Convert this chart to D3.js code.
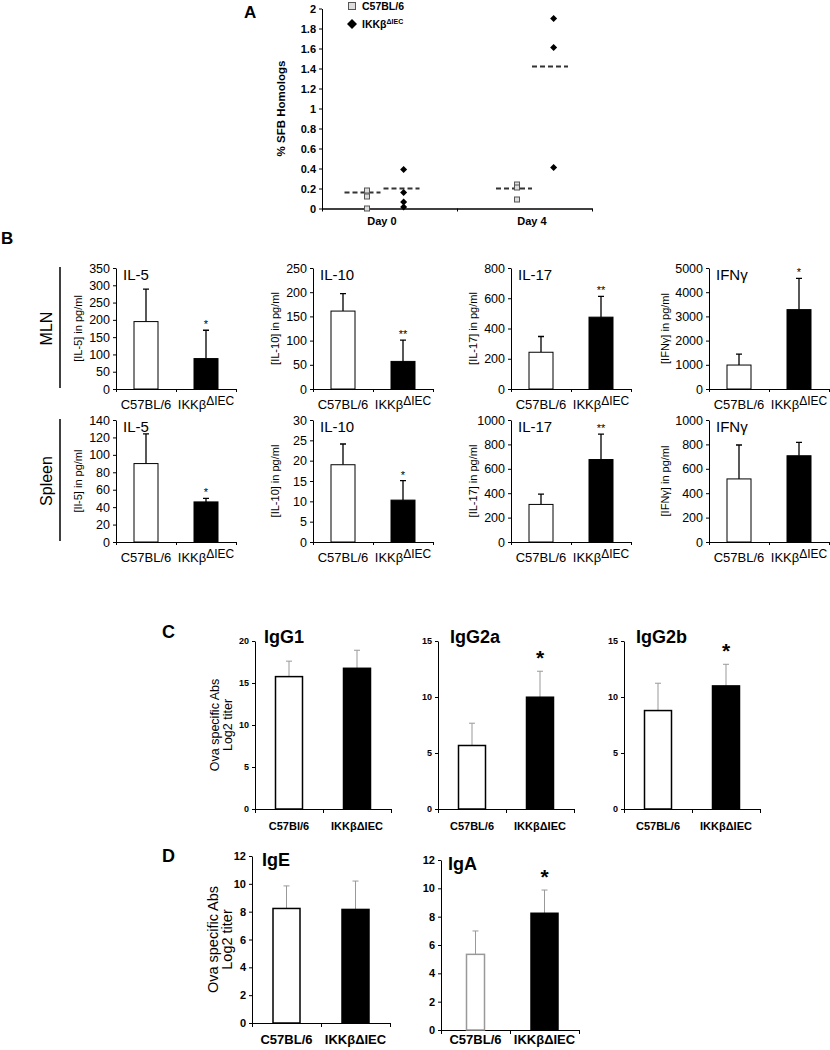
<!DOCTYPE html>
<html>
<head>
<meta charset="utf-8">
<script src="https://cdn.jsdelivr.net/npm/d3@7"></script>
<style>
  body { margin: 0; background: #fff; }
  svg { display: block; font-family: "Liberation Sans", Arial, sans-serif; }
</style>
</head>
<body>
<div id="fig"></div>
<script>
!(function(){
    "use strict"

    // ---- panel A data (% SFB homologs) ----
    var aDays = ["Day 0", "Day 4"]
    var aDayPos = [2, 7]
    var aC57 = [[0.18, 0.12, 0.0], [0.24, 0.21, 0.09]]
    var aIKK = [[0.39, 0.16, 0.065, 0.015], [1.9, 1.61, 0.41]]
    var aC57Mean = [0.16, 0.2]
    var aIKKMean = [0.2, 1.42]
    var aTicks = [0, 0.2, 0.4, 0.6, 0.8, 1, 1.2, 1.4, 1.6, 1.8, 2]

    // ---- panel B data (cytokines, pg/ml) ----
    var bCytokines = ["IL-5", "IL-10", "IL-17", "IFNγ"]
    var bYTitlesMln = ["[IL-5] in pg/ml", "[IL-10] in pg/ml", "[IL-17] in pg/ml", "[IFNγ] in pg/ml"]
    var bYTitlesSpl = ["[Il-5] in pg/ml", "[IL-10] in pg/ml", "[IL-17] in pg/ml", "[IFNγ] in pg/ml"]
    var bMlnMax = [350, 250, 800, 5000]
    var bMlnStep = [50, 50, 200, 1000]
    var bMlnWT = [195, 161, 243, 990]
    var bMlnWTErr = [94, 36, 104, 450]
    var bMlnKO = [88, 57, 475, 3280]
    var bMlnKOErr = [82, 44, 137, 1290]
    var bMlnStars = ["*", "**", "**", "*"]
    var bSplMax = [140, 30, 1000, 1000]
    var bSplStep = [20, 5, 200, 200]
    var bSplWT = [90, 19.0, 308, 517]
    var bSplWTErr = [34, 5.1, 84, 278]
    var bSplKO = [46, 10.3, 676, 707]
    var bSplKOErr = [4, 4.8, 208, 109]
    var bSplStars = ["*", "*", "**", ""]

    // ---- panel C data (log2 titer) ----
    var cIg = ["IgG1", "IgG2a", "IgG2b"]
    var cMax = [20, 15, 15]
    var cWT = [15.76, 5.67, 8.79]
    var cWTErr = [1.84, 1.99, 2.44]
    var cKO = [16.75, 9.98, 10.99]
    var cKOErr = [2.15, 2.32, 1.93]
    var cStars = ["", "*", "*"]
    var cGroups = [["C57Bl/6", "IKKβΔIEC"], ["C57BL/6", "IKKβΔIEC"], ["C57BL/6", "IKKβΔIEC"]]

    // ---- panel D data ----
    var dIg = ["IgE", "IgA"]
    var dMax = [12, 12]
    var dWT = [8.23, 5.34]
    var dWTErr = [1.62, 1.65]
    var dKO = [8.16, 8.24]
    var dKOErr = [2.04, 1.64]
    var dStars = ["", "*"]
    var dGroups = [["C57BL/6", "IKKβΔIEC"], ["C57BL/6", "IKKβΔIEC"]]

    var width = 830, height = 1050
    var svg = d3.select("#fig").append("svg").attr("width", width).attr("height", height)
    svg.append("rect").attr("width", width).attr("height", height).attr("fill", "#fff")

    drawA()
    drawB()
    drawIg(cIg, cMax, 5, cWT, cWTErr, cKO, cKOErr, cStars, {
        x0: [255, 438, 624], top: [641, 641, 641], bottom: [809, 809, 809], w: 136,
        tickFont: 9, labFont: 11, labY: 830, titleDx: [9, 12, 12], titleDy: 2, labels: cGroups,
        yTitleX: [215, 228], yTitleFont: 12.5, letter: "C", letterY: 638
    })
    drawIg(dIg, dMax, 2, dWT, dWTErr, dKO, dKOErr, dStars, {
        x0: [252, 441], top: [856, 860], bottom: [1023, 1030], w: 138,
        tickFont: 11, labFont: 13, labY: 1044, titleDx: [10, 7], titleDy: 10,
        labels: dGroups,
        yTitleX: [213, 227], yTitleFont: 14.5, letter: "D", letterY: 862, lightWT: [false, true]
    })

    function drawA() {
        var g = svg.append("g")
        var x = d3.scaleLinear().domain([0, 9]).range([322, 592])
        var y = d3.scaleLinear().domain([0, 2]).range([208.5, 8.5])

        g.append("text").attr("x", 244).attr("y", 18).attr("font-size", 17)
            .attr("font-weight", "bold").text("A")

        var ya = g.append("g").attr("transform", "translate(" + x(0) + ",0)")
            .call(d3.axisLeft(y).tickValues(aTicks).tickSize(3).tickSizeOuter(0)
                .tickFormat(function(d){ return d3.format("~g")(d) }))
        ya.selectAll("text").attr("font-size", 11).attr("font-weight", "bold")
            .attr("font-family", "Liberation Sans, Arial").attr("fill", "#000")

        var xa = g.append("g").attr("transform", "translate(0," + y(0) + ")")
            .call(d3.axisBottom(x).tickValues([0, 4.5, 9]).tickSize(3).tickSizeOuter(0).tickFormat(""))
        xa.select(".domain").attr("stroke-width", 1.5)

        g.selectAll(".day").data(aDays).enter().append("text")
            .attr("x", function(d, i){ return x(aDayPos[i]) })
            .attr("y", 225).attr("text-anchor", "middle")
            .attr("font-size", 11).attr("font-weight", "bold").text(function(d){ return d })

        g.append("text").attr("transform", "translate(285," + (y(1)) + ") rotate(-90)")
            .attr("text-anchor", "middle").attr("font-size", 11.5).attr("font-weight", "bold")
            .text("% SFB Homologs")

        // dashed means
        var means = [
            {x: aDayPos[0] - 0.65, v: aC57Mean[0]}, {x: aDayPos[0] + 0.65, v: aIKKMean[0]},
            {x: aDayPos[1] - 0.6, v: aC57Mean[1]}, {x: aDayPos[1] + 0.6, v: aIKKMean[1]}
        ]
        g.selectAll(".mean").data(means).enter().append("line")
            .attr("x1", function(d){ return x(d.x - 0.6) })
            .attr("x2", function(d){ return x(d.x + 0.6) })
            .attr("y1", function(d){ return y(d.v) }).attr("y2", function(d){ return y(d.v) })
            .attr("stroke", "#333").attr("stroke-width", 2).attr("stroke-dasharray", "5,3")

        var sq = [], di = []
        aC57.forEach(function(vals, i){ vals.forEach(function(v){ sq.push({x: aDayPos[i] - 0.5, v: v}) }) })
        aIKK.forEach(function(vals, i){ vals.forEach(function(v){ di.push({x: aDayPos[i] + 0.72, v: v}) }) })

        g.selectAll(".sq").data(sq).enter().append("rect")
            .attr("x", function(d){ return x(d.x) - 2.5 }).attr("y", function(d){ return y(d.v) - 2.5 })
            .attr("width", 5).attr("height", 5).attr("fill", "#ddd").attr("stroke", "#555").attr("stroke-width", 1)
        g.selectAll(".di").data(di).enter().append("path")
            .attr("transform", function(d){ return "translate(" + x(d.x) + "," + y(d.v) + ")" })
            .attr("d", "M0,-3.5L3.5,0L0,3.5L-3.5,0Z").attr("fill", "#000")

        // legend
        g.append("rect").attr("x", 348.5).attr("y", 2.5).attr("width", 7).attr("height", 7)
            .attr("fill", "#ddd").attr("stroke", "#555")
        g.append("text").attr("x", 362).attr("y", 10).attr("font-size", 10.5).attr("font-weight", "bold").text("C57BL/6")
        g.append("path").attr("transform", "translate(352,24)").attr("d", "M0,-5L5,0L0,5L-5,0Z").attr("fill", "#000")
        var t = g.append("text").attr("x", 362).attr("y", 28).attr("font-size", 10.5).attr("font-weight", "bold")
        t.append("tspan").text("IKKβ")
        t.append("tspan").attr("dy", -4).attr("font-size", 7).text("ΔIEC")
    }

    function drawB() {
        var g = svg.append("g")
        var x0s = [116, 313, 511, 709]
        var w = 120
        g.append("text").attr("x", 1).attr("y", 244).attr("font-size", 17).attr("font-weight", "bold").text("B")

        var rows = [
            {top: 268, bottom: 389, max: bMlnMax, step: bMlnStep, wt: bMlnWT, wtE: bMlnWTErr, ko: bMlnKO, koE: bMlnKOErr, stars: bMlnStars, yt: bYTitlesMln, name: "MLN"},
            {top: 420, bottom: 542, max: bSplMax, step: bSplStep, wt: bSplWT, wtE: bSplWTErr, ko: bSplKO, koE: bSplKOErr, stars: bSplStars, yt: bYTitlesSpl, name: "Spleen"}
        ]

        rows.forEach(function(r){
            g.append("line").attr("x1", 60).attr("x2", 60).attr("y1", r.top - 1).attr("y2", r.bottom - 1)
                .attr("stroke", "#000").attr("stroke-width", 1.5)
            g.append("text").attr("transform", "translate(52," + ((r.top + r.bottom) / 2) + ") rotate(-90)")
                .attr("text-anchor", "middle").attr("font-size", 16).text(r.name)

            bCytokines.forEach(function(name, i){
                var x0 = x0s[i]
                var y = d3.scaleLinear().domain([0, r.max[i]]).range([r.bottom, r.top])
                var xb = d3.scaleBand().domain([0, 1]).range([x0, x0 + w])
                var xl = d3.scaleLinear().domain([0, 2]).range([x0, x0 + w])
                var cg = g.append("g")

                var ya = cg.append("g").attr("transform", "translate(" + x0 + ",0)")
                    .call(d3.axisLeft(y).tickValues(d3.range(0, r.max[i] + 1e-9, r.step[i])).tickSize(3)
                        .tickSizeOuter(0).tickFormat(d3.format("d")))
                ya.selectAll("text").attr("font-size", 12.5).attr("fill", "#000").attr("font-family", "Liberation Sans, Arial")
                cg.append("g").attr("transform", "translate(0," + r.bottom + ")")
                    .call(d3.axisBottom(xl).tickValues([0, 1, 2]).tickSize(3).tickSizeOuter(0).tickFormat(""))

                var bars = [
                    {k: 0, v: r.wt[i], e: r.wtE[i], fill: "#fff", star: ""},
                    {k: 1, v: r.ko[i], e: r.koE[i], fill: "#000", star: r.stars[i]}
                ]
                var bw = 24
                cg.selectAll(".err").data(bars).enter().append("path")
                    .attr("d", function(d){
                        var cx = xb(d.k) + xb.bandwidth() / 2
                        return "M" + cx + "," + y(d.v) + "V" + y(d.v + d.e) + "M" + (cx - 3) + "," + y(d.v + d.e) + "H" + (cx + 3)
                    })
                    .attr("stroke", "#000").attr("stroke-width", 1.3).attr("fill", "none")
                cg.selectAll(".bar").data(bars).enter().append("rect")
                    .attr("x", function(d){ return xb(d.k) + xb.bandwidth() / 2 - bw / 2 })
                    .attr("y", function(d){ return y(d.v) })
                    .attr("width", bw).attr("height", function(d){ return r.bottom - y(d.v) })
                    .attr("fill", function(d){ return d.fill }).attr("stroke", "#000").attr("stroke-width", 1)
                cg.selectAll(".star").data(bars).enter().append("text")
                    .attr("x", function(d){ return xb(d.k) + xb.bandwidth() / 2 })
                    .attr("y", function(d){ return y(d.v + d.e) - 2 })
                    .attr("text-anchor", "middle").attr("font-size", 11).text(function(d){ return d.star })

                cg.append("text").attr("x", x0 + 7).attr("y", r.top + 12).attr("font-size", 15).text(name)
                cg.append("text").attr("transform", "translate(" + (x0 - (i == 3 ? 40 : 34)) + "," + ((r.top + r.bottom) / 2) + ") rotate(-90)")
                    .attr("text-anchor", "middle").attr("font-size", 11).text(r.yt[i])

                cg.append("text").attr("x", xb(0) + xb.bandwidth() / 2).attr("y", r.bottom + 20)
                    .attr("text-anchor", "middle").attr("font-size", 13).text("C57BL/6")
                var t = cg.append("text").attr("x", xb(1) + xb.bandwidth() / 2).attr("y", r.bottom + 20)
                    .attr("text-anchor", "middle").attr("font-size", 13)
                t.append("tspan").text("IKKβ")
                t.append("tspan").attr("dy", -4).attr("font-size", 12).text("ΔIEC")
            })
        })
    }

    function drawIg(names, maxes, step, wt, wtE, ko, koE, stars, o) {
        var g = svg.append("g")
        g.append("text").attr("x", 162).attr("y", o.letterY).attr("font-size", 18).attr("font-weight", "bold").text(o.letter)

        names.forEach(function(name, i){
            var x0 = o.x0[i], top = o.top[i], bottom = o.bottom[i], w = o.w
            var y = d3.scaleLinear().domain([0, maxes[i]]).range([bottom, top])
            var xb = d3.scaleBand().domain([0, 1]).range([x0, x0 + w])
            var xl = d3.scaleLinear().domain([0, 2]).range([x0, x0 + w])
            var cg = g.append("g")

            var ya = cg.append("g").attr("transform", "translate(" + x0 + ",0)")
                .call(d3.axisLeft(y).tickValues(d3.range(0, maxes[i] + 1e-9, step)).tickSize(3).tickSizeOuter(0))
            ya.selectAll("text").attr("font-size", o.tickFont).attr("font-weight", "bold").attr("fill", "#000")
                .attr("font-family", "Liberation Sans, Arial")
            cg.append("g").attr("transform", "translate(0," + bottom + ")")
                .call(d3.axisBottom(xl).tickValues([0, 1, 2]).tickSize(4).tickSizeOuter(0).tickFormat(""))

            var light = o.lightWT && o.lightWT[i]
            var bars = [
                {k: 0, v: wt[i], e: wtE[i], fill: "#fff", stroke: light ? "#999" : "#000", bw: light ? 18 : 27, star: ""},
                {k: 1, v: ko[i], e: koE[i], fill: "#000", stroke: "#000", bw: 27, star: stars[i]}
            ]
            cg.selectAll(".err").data(bars).enter().append("path")
                .attr("d", function(d){
                    var cx = xb(d.k) + xb.bandwidth() / 2
                    return "M" + cx + "," + y(d.v) + "V" + y(d.v + d.e) + "M" + (cx - 3) + "," + y(d.v + d.e) + "H" + (cx + 3)
                })
                .attr("stroke", "#999").attr("stroke-width", 1).attr("fill", "none")
            cg.selectAll(".bar").data(bars).enter().append("rect")
                .attr("x", function(d){ return xb(d.k) + xb.bandwidth() / 2 - d.bw / 2 })
                .attr("y", function(d){ return y(d.v) })
                .attr("width", function(d){ return d.bw }).attr("height", function(d){ return bottom - y(d.v) })
                .attr("fill", function(d){ return d.fill }).attr("stroke", function(d){ return d.stroke }).attr("stroke-width", 1.5)
            cg.selectAll(".star").data(bars).enter().append("text")
                .attr("x", function(d){ return xb(d.k) + xb.bandwidth() / 2 })
                .attr("y", function(d){ return y(d.v + d.e) - 6 })
                .attr("text-anchor", "middle").attr("font-size", 21).attr("font-weight", "bold").text(function(d){ return d.star })

            cg.append("text").attr("x", x0 + o.titleDx[i]).attr("y", top + o.titleDy)
                .attr("font-size", 18).attr("font-weight", "bold").text(name)

            o.labels[i].forEach(function(lab, k){
                cg.append("text").attr("x", xb(k) + xb.bandwidth() / 2).attr("y", o.labY)
                    .attr("text-anchor", "middle").attr("font-size", o.labFont).attr("font-weight", "bold").text(lab)
            })

            if (i == 0) {
                var cy = (top + bottom) / 2
                cg.append("text").attr("transform", "translate(" + o.yTitleX[0] + "," + cy + ") rotate(-90)")
                    .attr("text-anchor", "middle").attr("font-size", o.yTitleFont).attr("dy", "0.35em").text("Ova specific Abs")
                cg.append("text").attr("transform", "translate(" + o.yTitleX[1] + "," + cy + ") rotate(-90)")
                    .attr("text-anchor", "middle").attr("font-size", o.yTitleFont).attr("dy", "0.35em").text("Log2 titer")
            }
        })
    }
}());
</script>
</body>
</html>
